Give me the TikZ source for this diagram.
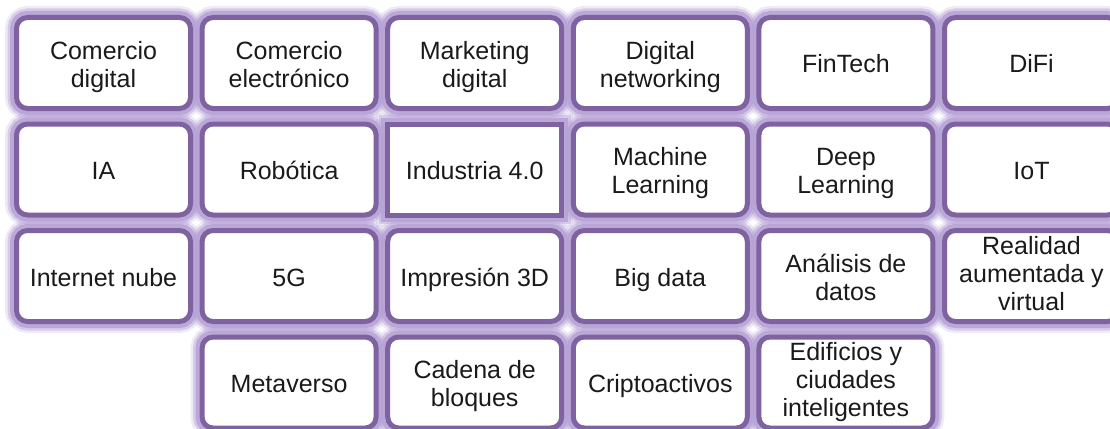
\documentclass[tikz,border=0pt]{standalone}
\usepackage{fontspec}
\setmainfont{Liberation Sans}
\usetikzlibrary{backgrounds}
\definecolor{bordpurple}{HTML}{7F63A1}
\definecolor{glowpurple}{HTML}{B6A2D6}
\definecolor{txt}{HTML}{1A1A1A}
\tikzset{
  card/.style={draw=bordpurple, line width=5pt, fill=white, rounded corners=11pt,
    minimum width=174pt, minimum height=91pt, inner sep=2pt, outer sep=0pt,
    align=center, text=txt, font=\fontsize{25}{28}\selectfont,
    execute at begin node={\rule{0pt}{26pt}},
    execute at end node={\rule[-6pt]{0pt}{6pt}}},
  twoline/.style={execute at begin node={\rule{0pt}{54pt}}},
  sharpcard/.style={card, sharp corners},
  glowA/.style={draw=glowpurple, line width=23pt, opacity=0.22},
  glowB/.style={draw=glowpurple, line width=18pt, opacity=0.45},
  glowC/.style={draw=glowpurple, line width=13pt, opacity=0.85},
}
\begin{document}
\begin{tikzpicture}[x=1pt,y=-1pt]
\useasboundingbox (0,0) rectangle (1110,428);
\clip (0,0) rectangle (1110,428);
\def\cx#1{103.5+185.6*#1}
\def\cy#1{63+106.5*#1}
% row 1
\node[card,twoline] (a1) at ({\cx{0}},{\cy{0}}) {Comercio\\digital};
\node[card,twoline] (a2) at ({\cx{1}},{\cy{0}}) {Comercio\\electrónico};
\node[card,twoline] (a3) at ({\cx{2}},{\cy{0}}) {Marketing\\digital};
\node[card,twoline] (a4) at ({\cx{3}},{\cy{0}}) {Digital\\networking};
\node[card] (a5) at ({\cx{4}},{\cy{0}}) {FinTech};
\node[card] (a6) at ({\cx{5}},{\cy{0}}) {DiFi};
% row 2
\node[card] (b1) at ({\cx{0}},{\cy{1}}) {IA};
\node[card] (b2) at ({\cx{1}},{\cy{1}}) {Robótica};
\node[sharpcard] (b3) at ({\cx{2}},{\cy{1}}) {Industria 4.0};
\node[card,twoline] (b4) at ({\cx{3}},{\cy{1}}) {Machine\\Learning};
\node[card,twoline] (b5) at ({\cx{4}},{\cy{1}}) {Deep\\Learning};
\node[card] (b6) at ({\cx{5}},{\cy{1}}) {IoT};
% row 3
\node[card] (c1) at ({\cx{0}},{\cy{2}}) {Internet nube};
\node[card] (c2) at ({\cx{1}},{\cy{2}}) {5G};
\node[card] (c3) at ({\cx{2}},{\cy{2}}) {Impresión 3D};
\node[card] (c4) at ({\cx{3}},{\cy{2}}) {Big data};
\node[card,twoline] (c5) at ({\cx{4}},{\cy{2}}) {Análisis de\\datos};
\node[card] (c6) at ({\cx{5}},{\cy{2}}) {Realidad\\aumentada y\\virtual};
% row 4
\node[card] (d2) at ({\cx{1}},{\cy{3}}) {Metaverso};
\node[card,twoline] (d3) at ({\cx{2}},{\cy{3}}) {Cadena de\\bloques};
\node[card] (d4) at ({\cx{3}},{\cy{3}}) {Criptoactivos};
\node[card] (d5) at ({\cx{4}},{\cy{3}}) {Edificios y\\ciudades\\inteligentes};
% glow behind cards
\begin{scope}[on background layer]
\foreach \g in {glowA,glowB,glowC}{
  \foreach \n in {a1,a2,a3,a4,a5,a6,b1,b2,b4,b5,b6,c1,c2,c3,c4,c5,c6,d2,d3,d4,d5}{
    \draw[\g, rounded corners=11pt] (\n.north west) rectangle (\n.south east);
  }
  \draw[\g] (b3.north west) rectangle (b3.south east);
}
\end{scope}
\end{tikzpicture}
\end{document}
